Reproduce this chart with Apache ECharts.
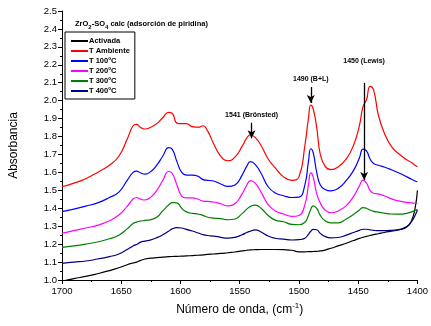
<!DOCTYPE html>
<html><head><meta charset="utf-8">
<script src="https://cdn.jsdelivr.net/npm/echarts@6/dist/echarts.min.js"></script>
<style>html,body{margin:0;padding:0;background:#fff}#c{width:431px;height:326px}</style>
</head><body><div id="c"></div>
<script>
const wavenumbers = [1700,1690,1680,1670,1660,1652,1645,1640,1637,1634,1630,1625,1620,1615,1610,1607,1603,1599,1595,1590,1585,1581,1577,1572,1566,1560,1554,1548,1544,1541,1537,1532,1526,1520,1513,1506,1500,1495,1492,1490,1488,1485,1482,1478,1473,1467,1460,1454,1449,1446,1443,1440,1437,1433,1428,1422,1415,1409,1405,1402,1400];
const activada = [0.993,1.008,1.02,1.035,1.052,1.068,1.085,1.095,1.1,1.108,1.117,1.122,1.125,1.128,1.13,1.131,1.132,1.133,1.134,1.136,1.138,1.14,1.143,1.145,1.148,1.152,1.156,1.162,1.166,1.168,1.169,1.17,1.17,1.17,1.169,1.166,1.157,1.157,1.158,1.158,1.159,1.16,1.162,1.167,1.177,1.19,1.205,1.22,1.232,1.238,1.243,1.248,1.253,1.258,1.265,1.272,1.28,1.295,1.33,1.40,1.50];
const tAmbiente = [1.52,1.54,1.565,1.60,1.64,1.69,1.785,1.86,1.868,1.852,1.842,1.852,1.872,1.905,1.935,1.93,1.875,1.872,1.872,1.855,1.852,1.86,1.83,1.76,1.69,1.665,1.685,1.745,1.792,1.81,1.795,1.75,1.675,1.625,1.575,1.556,1.575,1.75,1.90,1.975,1.955,1.85,1.70,1.635,1.615,1.63,1.675,1.75,1.86,1.965,2.005,2.08,2.06,1.92,1.82,1.745,1.70,1.67,1.655,1.64,1.632];
const t100 = [1.381,1.395,1.412,1.43,1.46,1.49,1.555,1.60,1.607,1.598,1.59,1.605,1.64,1.69,1.738,1.73,1.66,1.60,1.585,1.585,1.578,1.56,1.556,1.552,1.535,1.522,1.53,1.585,1.635,1.66,1.645,1.595,1.52,1.485,1.47,1.46,1.462,1.53,1.66,1.732,1.71,1.60,1.53,1.505,1.497,1.51,1.555,1.61,1.68,1.73,1.72,1.675,1.65,1.64,1.63,1.615,1.595,1.575,1.562,1.552,1.548];
const t200 = [1.26,1.275,1.29,1.305,1.33,1.362,1.41,1.452,1.46,1.452,1.446,1.462,1.50,1.555,1.605,1.595,1.53,1.468,1.458,1.458,1.45,1.44,1.438,1.435,1.425,1.413,1.425,1.48,1.53,1.554,1.54,1.49,1.42,1.385,1.368,1.355,1.36,1.42,1.53,1.597,1.575,1.48,1.43,1.39,1.375,1.385,1.415,1.465,1.525,1.557,1.54,1.50,1.484,1.48,1.47,1.452,1.44,1.433,1.43,1.428,1.428];
const t300 = [1.182,1.19,1.20,1.212,1.23,1.25,1.285,1.315,1.323,1.328,1.332,1.337,1.35,1.385,1.418,1.432,1.43,1.40,1.38,1.372,1.368,1.36,1.35,1.345,1.342,1.336,1.34,1.37,1.395,1.41,1.418,1.40,1.36,1.334,1.325,1.31,1.308,1.322,1.36,1.395,1.413,1.40,1.36,1.33,1.318,1.318,1.34,1.365,1.39,1.404,1.40,1.39,1.383,1.378,1.373,1.368,1.367,1.372,1.38,1.388,1.395];
const t400 = [1.093,1.10,1.106,1.117,1.13,1.145,1.17,1.19,1.198,1.21,1.217,1.224,1.236,1.252,1.272,1.285,1.292,1.29,1.282,1.273,1.262,1.253,1.248,1.245,1.238,1.233,1.238,1.252,1.265,1.272,1.279,1.268,1.245,1.233,1.228,1.223,1.225,1.233,1.255,1.272,1.282,1.28,1.26,1.243,1.235,1.237,1.25,1.265,1.277,1.283,1.283,1.28,1.277,1.275,1.275,1.277,1.282,1.298,1.325,1.36,1.39];
const seriesNames = ['Activada','T Ambiente','T 100ºC','T 200ºC','T 300ºC','T 400ºC'];
const seriesColors = ['#000000','#ff0000','#0000ff','#ff00ff','#008000','#000080'];
const xTicks = {min:1400, max:1700, interval:50};
const yTicks = {min:1.0, max:2.5, interval:0.1};
// annotations: [label, wavenumber, arrow top, arrow bottom, label gap]
const annotations = [
  ['1541 (Brönsted)', 1540, 1.877, 1.79, 4],
  ['1490 (B+L)', 1490, 2.076, 1.987, 4],
  ['1450 (Lewis)', 1445, 2.099, 1.558, 18]
];
const FONT = 'Liberation Sans, Arial, sans-serif';
const allValues = [activada,tAmbiente,t100,t200,t300,t400];
const chart = echarts.init(document.getElementById('c'), null, {renderer:'canvas'});
const series = allValues.map((vals,i)=>({
  name: seriesNames[i], type:'line', showSymbol:false, smooth:0.5,
  data: wavenumbers.map((w,k)=>[w, vals[k]]),
  lineStyle:{width:1.2, color:seriesColors[i]}, itemStyle:{color:seriesColors[i]},
  clip:true, z: 2
}));
series[1].markLine = {
  silent:true, symbol:['none','arrow'], symbolSize:[6,8],
  lineStyle:{color:'#000', width:1.3, type:'solid'},
  data: annotations.map(a=>[
    {coord:[a[1],a[2]], label:{show:true, position:'start', formatter:a[0], distance:a[4], color:'#000', fontSize:7, fontWeight:'bold', fontFamily:FONT}},
    {coord:[a[1],a[3]]}
  ])
};
chart.setOption({
  animation:false,
  backgroundColor:'#fff',
  textStyle:{fontFamily:FONT},
  title:{
    text:'ZrO{sub|2}-SO{sub|4} calc (adsorción de piridina)',
    left:75, top:18, padding:0,
    textStyle:{fontSize:7.5, fontWeight:'bold', color:'#000', fontFamily:FONT,
      rich:{sub:{fontSize:6, fontWeight:'bold', verticalAlign:'bottom', padding:[6,0,0,0], fontFamily:FONT}}}
  },
  legend:{
    orient:'vertical', left:65, top:32, padding:[4,5,3,6], itemGap:0,
    itemWidth:17, itemHeight:2, icon:'rect',
    borderColor:'#000', borderWidth:1, backgroundColor:'#fff',
    textStyle:{fontSize:7.5, fontWeight:'bold', color:'#000', fontFamily:FONT, lineHeight:10, padding:[0,0,0,-4]},
    data: seriesNames
  },
  grid:{left:62, right:10, top:11, bottom:46, containLabel:false},
  xAxis:{
    type:'value', inverse:true, min:xTicks.min, max:xTicks.max, interval:xTicks.interval,
    name:'Número de onda, (cm{sup|-1})', nameLocation:'middle', nameGap:22,
    nameTextStyle:{fontSize:12, color:'#000', fontFamily:FONT, rich:{sup:{fontSize:8, verticalAlign:'top', padding:[0,0,8,0], fontFamily:FONT}}},
    axisLine:{lineStyle:{color:'#000', width:1}},
    axisTick:{length:4, lineStyle:{color:'#000'}},
    minorTick:{show:true, splitNumber:2, length:2, lineStyle:{color:'#000'}},
    axisLabel:{fontSize:9.5, color:'#000', margin:6, fontFamily:FONT, formatter:v=>String(v)},
    splitLine:{show:false}
  },
  yAxis:{
    type:'value', min:yTicks.min, max:yTicks.max, interval:yTicks.interval,
    name:'Absorbancia', nameLocation:'middle', nameGap:42,
    nameTextStyle:{fontSize:12, color:'#000', fontFamily:FONT},
    axisLine:{show:true, lineStyle:{color:'#000', width:1}},
    axisTick:{show:true, length:4, lineStyle:{color:'#000'}},
    minorTick:{show:true, splitNumber:2, length:2, lineStyle:{color:'#000'}},
    axisLabel:{fontSize:9.5, color:'#000', margin:5, fontFamily:FONT, formatter:v=>v.toFixed(1)},
    splitLine:{show:false}
  },
  series: series
});
</script>
</body></html>
